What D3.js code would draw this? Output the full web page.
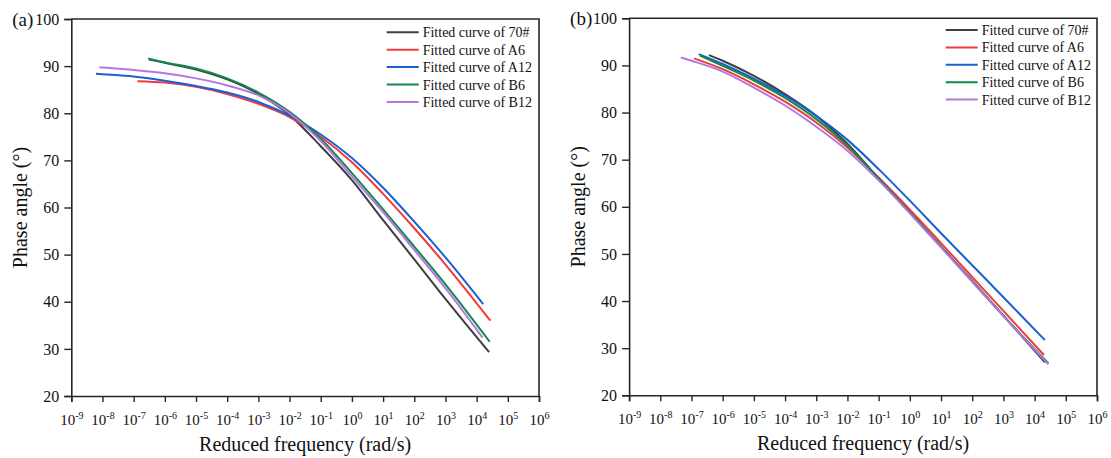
<!DOCTYPE html>
<html>
<head>
<meta charset="utf-8">
<script src="https://cdn.jsdelivr.net/npm/d3@7"></script>
<style>
  html, body { margin: 0; padding: 0; background: #fff; }
  svg { display: block; }
  svg text { font-family: "Liberation Serif", "DejaVu Serif", serif !important; }
</style>
</head>
<body>
<svg id="chart" width="1111" height="458"></svg>
<script>
// Series names and colours
const seriesNames = ["Fitted curve of 70#", "Fitted curve of A6", "Fitted curve of A12", "Fitted curve of B6", "Fitted curve of B12"];
const seriesColors = ["#3f3f3f", "#f03a3a", "#1a5fd2", "#0f8a4c", "#b576e0"];

// Axis ticks
const xTickExponents = [-9, -8, -7, -6, -5, -4, -3, -2, -1, 0, 1, 2, 3, 4, 5, 6];
const yTickValues = [20, 30, 40, 50, 60, 70, 80, 90, 100];

// Panel (a): log10 of reduced frequency and phase angle (deg)
const a70Exp  = [-6.5, -6, -5, -4, -3, -2, -1, 0, 1, 2, 3, 4.40];
const a70Val  = [91.4, 90.7, 89.3, 87.2, 84.1, 79.6, 73.0, 65.8, 57.3, 49.0, 40.6, 29.3];
const aA6Exp  = [-6.88, -6, -5, -4, -3, -2, -1, 0, 1, 2, 3, 4.44];
const aA6Val  = [86.8, 86.5, 85.6, 84.1, 82.0, 79.2, 75.0, 69.6, 62.9, 55.6, 47.9, 36.0];
const aA12Exp = [-8.21, -8, -7, -6, -5, -4, -3, -2, -1, 0, 1, 2, 3, 4.21];
const aA12Val = [88.4, 88.3, 87.8, 86.9, 85.8, 84.4, 82.4, 79.5, 75.5, 70.5, 64.2, 57.0, 49.4, 39.5];
const aB6Exp  = [-6.54, -6, -5, -4, -3, -2, -1, 0, 1, 2, 3, 4.42];
const aB6Val  = [91.6, 90.8, 89.5, 87.4, 84.4, 80.3, 74.6, 67.3, 59.6, 51.7, 43.7, 31.5];
const aB12Exp = [-8.10, -8, -7, -6, -5, -4, -3, -2, -1, 0, 1, 2, 3, 4.19];
const aB12Val = [89.75, 89.7, 89.2, 88.5, 87.4, 85.9, 83.8, 80.0, 74.1, 66.6, 59.0, 51.0, 42.9, 32.4];

// Panel (b)
const b70Exp  = [-6.44, -6, -5, -4, -3, -2, -1, 0, 1, 2, 3, 4.33];
const b70Val  = [92.2, 91.0, 87.8, 83.9, 79.3, 73.4, 66.0, 58.9, 51.6, 44.3, 36.9, 27.0];
const bA6Exp  = [-6.92, -6, -5, -4, -3, -2, -1, 0, 1, 2, 3, 4.30];
const bA6Val  = [91.5, 89.2, 86.0, 82.3, 77.9, 72.6, 66.2, 59.4, 52.3, 45.1, 37.9, 28.55];
const bA12Exp = [-6.77, -6, -5, -4, -3, -2, -1, 0, 1, 2, 3, 4.33];
const bA12Val = [92.4, 90.3, 87.2, 83.6, 79.3, 74.2, 68.0, 61.3, 54.4, 47.6, 40.8, 31.7];
const bB6Exp  = [-6.73, -6, -5, -4, -3, -2, -1, 0, 1, 2, 3, 4.44];
const bB6Val  = [92.1, 89.9, 86.8, 83.1, 78.6, 73.0, 66.0, 58.8, 51.5, 44.2, 36.9, 26.8];
const bB12Exp = [-7.34, -7, -6, -5, -4, -3, -2, -1, 0, 1, 2, 3, 4.44];
const bB12Val = [91.7, 91.0, 88.7, 85.3, 81.5, 77.0, 71.9, 65.6, 58.6, 51.4, 44.1, 36.8, 26.6];

const panels = [
  { label: "(a)", box: { left: 71.3, right: 539, top: 19, bottom: 396 },
    legend: { x: 386.7, y: 32.3 },
    series: [[a70Exp, a70Val], [aA6Exp, aA6Val], [aA12Exp, aA12Val], [aB6Exp, aB6Val], [aB12Exp, aB12Val]] },
  { label: "(b)", box: { left: 629.1, right: 1097, top: 18.3, bottom: 395.3 },
    legend: { x: 945.7, y: 30 },
    series: [[b70Exp, b70Val], [bA6Exp, bA6Val], [bA12Exp, bA12Val], [bB6Exp, bB6Val], [bB12Exp, bB12Val]] }
];

const svg = d3.select("#chart");
const axisColor = "#262626";
const serif = "'Liberation Serif', 'DejaVu Serif', serif";

panels.forEach(p => {
  const b = p.box;
  const x = d3.scaleLog().domain([1e-9, 1e6]).range([b.left, b.right]);
  const y = d3.scaleLinear().domain([20, 100]).range([b.bottom, b.top]);
  const g = svg.append("g");

  // curves
  const line = d3.line()
    .x(d => x(Math.pow(10, d[0])))
    .y(d => y(d[1]))
    .curve(d3.curveMonotoneX);
  p.series.forEach((s, i) => {
    const pts = s[0].map((e, k) => [e, s[1][k]]);
    g.append("path")
      .attr("d", line(pts))
      .attr("fill", "none")
      .attr("stroke", seriesColors[i])
      .attr("stroke-width", 2);
  });

  // frame (top and right)
  g.append("path")
    .attr("d", `M${b.left},${b.top}H${b.right}V${b.bottom}`)
    .attr("fill", "none").attr("stroke", axisColor).attr("stroke-width", 1.6);

  // x axis
  const xAxis = d3.axisBottom(x).tickValues(xTickExponents.map(e => Math.pow(10, e)))
    .tickSize(6).tickPadding(4).tickFormat("");
  const gx = g.append("g").attr("transform", `translate(0,${b.bottom})`).call(xAxis);
  gx.attr("font-family", serif);
  gx.select(".domain").attr("stroke", axisColor).attr("stroke-width", 1.6);
  gx.selectAll(".tick line").attr("stroke", axisColor).attr("stroke-width", 1.4);
  gx.selectAll(".tick").each(function(d) {
    const e = Math.round(Math.log10(d));
    const t = d3.select(this).append("text")
      .attr("y", 29).attr("fill", "#111").attr("text-anchor", "middle")
      .style("font-size", "15px");
    t.append("tspan").text("10");
    t.append("tspan").attr("dy", -6).style("font-size", "10px").text(String(e));
  });

  // y axis
  const yAxis = d3.axisLeft(y).tickValues(yTickValues).tickSize(7).tickPadding(5);
  const gy = g.append("g").attr("transform", `translate(${b.left},0)`).call(yAxis);
  gy.attr("font-family", serif);
  gy.select(".domain").attr("stroke", axisColor).attr("stroke-width", 1.6);
  gy.selectAll(".tick line").attr("stroke", axisColor).attr("stroke-width", 1.4);
  gy.selectAll(".tick text").attr("fill", "#111").style("font-size", "16px");

  // panel label
  g.append("text").attr("x", b.left - 59).attr("y", b.top + 7)
    .attr("fill", "#111").style("font-size", "19px").text(p.label);

  // axis titles
  g.append("text")
    .attr("x", (b.left + b.right) / 2).attr("y", b.bottom + 55)
    .attr("text-anchor", "middle").attr("fill", "#111").style("font-size", "20px")
    .text("Reduced frequency (rad/s)");
  g.append("text")
    .attr("transform", `translate(${b.left - 44},${(b.top + b.bottom) / 2}) rotate(-90)`)
    .attr("text-anchor", "middle").attr("fill", "#111").style("font-size", "20px")
    .text("Phase angle (°)");

  // legend
  const lg = g.append("g");
  seriesNames.forEach((name, i) => {
    const ly = p.legend.y + i * 17.4;
    lg.append("line")
      .attr("x1", p.legend.x).attr("x2", p.legend.x + 32)
      .attr("y1", ly).attr("y2", ly)
      .attr("stroke", seriesColors[i]).attr("stroke-width", 2);
    lg.append("text")
      .attr("x", p.legend.x + 36).attr("y", ly + 5)
      .attr("fill", "#111").style("font-size", "14px").text(name);
  });
});

svg.selectAll("text").attr("font-family", serif);
</script>
</body>
</html>
